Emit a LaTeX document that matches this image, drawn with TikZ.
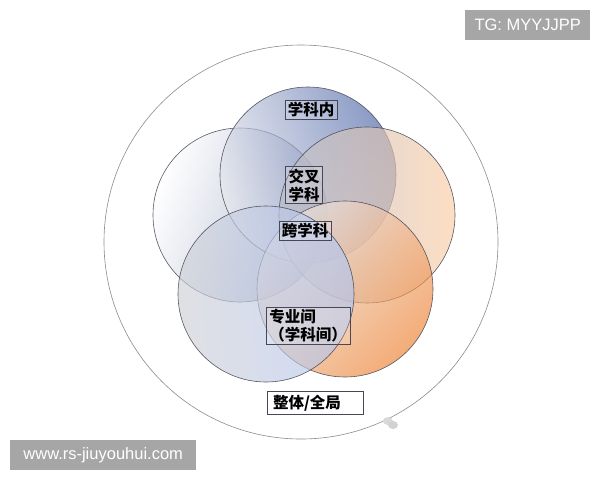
\documentclass[tikz,border=0pt]{standalone}
\usepackage{fontspec}
\setmainfont{Liberation Sans}
\newfontfamily\cjk{Noto Sans CJK SC}
\definecolor{edge}{RGB}{70,72,85}
\definecolor{outer}{RGB}{140,140,140}
\definecolor{wm}{RGB}{166,166,166}
\definecolor{tgray}{RGB}{232,233,238}
\definecolor{tblue}{RGB}{75,100,168}
\definecolor{lwhite}{RGB}{255,255,255}
\definecolor{lblue}{RGB}{140,152,185}
\definecolor{rgray}{RGB}{185,188,200}
\definecolor{rpeach}{RGB}{252,205,165}
\definecolor{olight}{RGB}{238,230,226}
\definecolor{oorange}{RGB}{238,130,50}
\definecolor{bgray}{RGB}{208,209,214}
\definecolor{bblue}{RGB}{178,198,242}
\tikzset{
  petal/.style={draw=edge, line width=0.6pt, fill opacity=0.66, draw opacity=0.9},
  lab/.style={draw=edge, line width=0.5pt, font=\cjk\bfseries\fontsize{15.5}{18}\selectfont,
    inner xsep=3pt, inner ysep=2pt, fill=white, fill opacity=0.15, text opacity=1},
  wmbox/.style={fill=wm, text=white, inner xsep=6pt, inner ysep=0pt,
    minimum height=30pt, anchor=north west}
}
\begin{document}
\begin{tikzpicture}[x=1pt,y=-1pt]
\useasboundingbox (0,0) rectangle (600,480);
\fill[white] (0,0) rectangle (600,480);
% outer circle
\draw[outer, line width=0.6pt] (301,242) circle[radius=197];
% petals
\path[petal, left color=lwhite, right color=lblue, shading angle=70] (240,215) circle[radius=87];
\path[petal, left color=tgray, right color=tblue, shading angle=110] (308,175) circle[radius=88];
\path[petal, left color=rgray, right color=rpeach, shading angle=90] (367,215) circle[radius=88];
\path[petal, left color=olight, right color=oorange, shading angle=45] (345,289) circle[radius=88];
\path[petal, left color=bgray, right color=bblue, shading angle=95] (266,294) circle[radius=88];
% labels
\node[lab] (inner) at (311,110) {学科内};
\node[lab, align=left] (cross) at (304,185) {交叉\\学科};
\node[lab] (trans) at (305,231) {跨学科};
\node[lab, align=left] (inter) at (308,326) {专业间\\（学科间）};
\node[lab, minimum width=96pt, minimum height=23pt] (whole) at (315,403) {整体/全局\hspace*{16pt}};
% small icon
\fill[gray!30] (388,421) ellipse[x radius=5, y radius=4];
\fill[gray!35] (393,425) ellipse[x radius=5, y radius=4];
% watermarks
\node[wmbox, minimum width=125pt, font=\fontsize{16.5}{18}\selectfont] (tg) at (465,10) {TG: MYYJJPP};
\node[wmbox, minimum width=186pt, font=\fontsize{16.5}{18}\selectfont] (site) at (10,440) {www.rs-jiuyouhui.com};
\end{tikzpicture}
\end{document}
